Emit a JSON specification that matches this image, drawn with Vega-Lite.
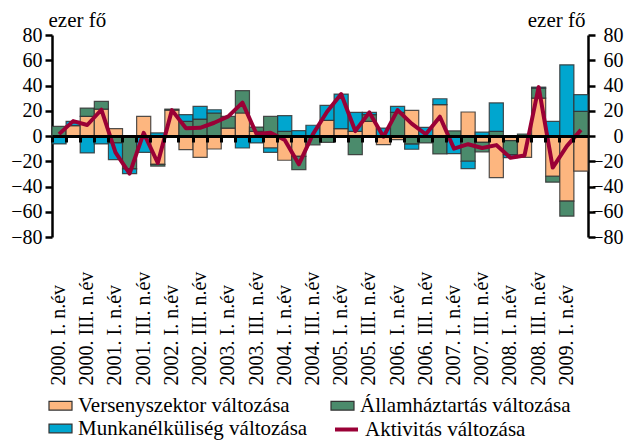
{
  "$schema": "https://vega.github.io/schema/vega-lite/v6.json",
  "width": 536,
  "height": 202,
  "autosize": {"type": "none"},
  "padding": {"left": 52, "top": 35, "right": 43, "bottom": 204},
  "background": "white",
  "config": {"font": "Liberation Serif", "view": {"stroke": null}, "axis": {"grid": false}},
  "datasets": {
    "bars": [
      {"q": "2000. I. n.év", "s": "Államháztartás változása", "v": 7.6},
      {"q": "2000. I. n.év", "s": "Munkanélküliség változása", "v": -6.3},
      {"q": "2000. II. n.év", "s": "Versenyszektor változása", "v": 8.2},
      {"q": "2000. II. n.év", "s": "Munkanélküliség változása", "v": 3.4},
      {"q": "2000. III. n.év", "s": "Versenyszektor változása", "v": 15.5},
      {"q": "2000. III. n.év", "s": "Államháztartás változása", "v": 6.6},
      {"q": "2000. III. n.év", "s": "Munkanélküliség változása", "v": -13.4},
      {"q": "2000. IV. n.év", "s": "Versenyszektor változása", "v": 21.3},
      {"q": "2000. IV. n.év", "s": "Államháztartás változása", "v": 6.1},
      {"q": "2000. IV. n.év", "s": "Munkanélküliség változása", "v": -6.3},
      {"q": "2001. I. n.év", "s": "Versenyszektor változása", "v": 5.8},
      {"q": "2001. I. n.év", "s": "Államháztartás változása", "v": -5.5},
      {"q": "2001. I. n.év", "s": "Munkanélküliség változása", "v": -13.2},
      {"q": "2001. II. n.év", "s": "Államháztartás változása", "v": -26.1},
      {"q": "2001. II. n.év", "s": "Munkanélküliség változása", "v": -3.7},
      {"q": "2001. III. n.év", "s": "Versenyszektor változása", "v": 15.5},
      {"q": "2001. III. n.év", "s": "Munkanélküliség változása", "v": -13},
      {"q": "2001. IV. n.év", "s": "Versenyszektor változása", "v": -22.5},
      {"q": "2001. IV. n.év", "s": "Államháztartás változása", "v": -1.3},
      {"q": "2001. IV. n.év", "s": "Munkanélküliség változása", "v": 2.4},
      {"q": "2002. I. n.év", "s": "Versenyszektor változása", "v": 20.5},
      {"q": "2002. I. n.év", "s": "Államháztartás változása", "v": 0.8},
      {"q": "2002. II. n.év", "s": "Versenyszektor változása", "v": -10.8},
      {"q": "2002. II. n.év", "s": "Államháztartás változása", "v": 11.6},
      {"q": "2002. II. n.év", "s": "Munkanélküliség változása", "v": 5.3},
      {"q": "2002. III. n.év", "s": "Versenyszektor változása", "v": -16.9},
      {"q": "2002. III. n.év", "s": "Államháztartás változása", "v": 13.4},
      {"q": "2002. III. n.év", "s": "Munkanélküliség változása", "v": 10},
      {"q": "2002. IV. n.év", "s": "Versenyszektor változása", "v": -10.3},
      {"q": "2002. IV. n.év", "s": "Államháztartás változása", "v": 18.2},
      {"q": "2002. IV. n.év", "s": "Munkanélküliség változása", "v": 2.6},
      {"q": "2003. I. n.év", "s": "Versenyszektor változása", "v": 6.3},
      {"q": "2003. I. n.év", "s": "Államháztartás változása", "v": 9.2},
      {"q": "2003. II. n.év", "s": "Versenyszektor változása", "v": 18.2},
      {"q": "2003. II. n.év", "s": "Államháztartás változása", "v": 17.7},
      {"q": "2003. II. n.év", "s": "Munkanélküliség változása", "v": -9.5},
      {"q": "2003. III. n.év", "s": "Versenyszektor változása", "v": 3.7},
      {"q": "2003. III. n.év", "s": "Államháztartás változása", "v": 3.4},
      {"q": "2003. III. n.év", "s": "Munkanélküliség változása", "v": -5.5},
      {"q": "2003. IV. n.év", "s": "Versenyszektor változása", "v": -9.5},
      {"q": "2003. IV. n.év", "s": "Államháztartás változása", "v": 15.5},
      {"q": "2003. IV. n.év", "s": "Munkanélküliség változása", "v": -3.4},
      {"q": "2004. I. n.év", "s": "Versenyszektor változása", "v": -19.2},
      {"q": "2004. I. n.év", "s": "Államháztartás változása", "v": 3.7},
      {"q": "2004. I. n.év", "s": "Munkanélküliség változása", "v": 12.4},
      {"q": "2004. II. n.év", "s": "Versenyszektor változása", "v": -16.1},
      {"q": "2004. II. n.év", "s": "Államháztartás változása", "v": -10.5},
      {"q": "2004. II. n.év", "s": "Munkanélküliség változása", "v": 4.2},
      {"q": "2004. III. n.év", "s": "Államháztartás változása", "v": -7},
      {"q": "2004. III. n.év", "s": "Munkanélküliség változása", "v": 8.5},
      {"q": "2004. IV. n.év", "s": "Versenyszektor változása", "v": 12.4},
      {"q": "2004. IV. n.év", "s": "Államháztartás változása", "v": -5},
      {"q": "2004. IV. n.év", "s": "Munkanélküliség változása", "v": 11.8},
      {"q": "2005. I. n.év", "s": "Versenyszektor változása", "v": 5.8},
      {"q": "2005. I. n.év", "s": "Munkanélküliség változása", "v": 27.4},
      {"q": "2005. II. n.év", "s": "Versenyszektor változása", "v": 3.7},
      {"q": "2005. II. n.év", "s": "Államháztartás változása", "v": -14.8},
      {"q": "2005. II. n.év", "s": "Munkanélküliség változása", "v": 15},
      {"q": "2005. III. n.év", "s": "Versenyszektor változása", "v": 11.6},
      {"q": "2005. III. n.év", "s": "Államháztartás változása", "v": 5.3},
      {"q": "2005. III. n.év", "s": "Munkanélküliség változása", "v": 1.8},
      {"q": "2005. IV. n.év", "s": "Versenyszektor változása", "v": -6.9},
      {"q": "2005. IV. n.év", "s": "Munkanélküliség változása", "v": 6.3},
      {"q": "2006. I. n.év", "s": "Versenyszektor változása", "v": -2.9},
      {"q": "2006. I. n.év", "s": "Államháztartás változása", "v": 18.7},
      {"q": "2006. I. n.év", "s": "Munkanélküliség változása", "v": 4.7},
      {"q": "2006. II. n.év", "s": "Versenyszektor változása", "v": 20.3},
      {"q": "2006. II. n.év", "s": "Államháztartás változása", "v": -6.5},
      {"q": "2006. II. n.év", "s": "Munkanélküliség változása", "v": -4},
      {"q": "2006. III. n.év", "s": "Államháztartás változása", "v": -5.5},
      {"q": "2006. III. n.év", "s": "Munkanélküliség változása", "v": 6.9},
      {"q": "2006. IV. n.év", "s": "Versenyszektor változása", "v": 24.8},
      {"q": "2006. IV. n.év", "s": "Államháztartás változása", "v": -14.2},
      {"q": "2006. IV. n.év", "s": "Munkanélküliség változása", "v": 4.7},
      {"q": "2007. I. n.év", "s": "Államháztartás változása", "v": 4},
      {"q": "2007. I. n.év", "s": "Munkanélküliség változása", "v": -14},
      {"q": "2007. II. n.év", "s": "Versenyszektor változása", "v": 19},
      {"q": "2007. II. n.év", "s": "Államháztartás változása", "v": -20},
      {"q": "2007. II. n.év", "s": "Munkanélküliség változása", "v": -5.8},
      {"q": "2007. III. n.év", "s": "Versenyszektor változása", "v": -5},
      {"q": "2007. III. n.év", "s": "Államháztartás változása", "v": -7.5},
      {"q": "2007. III. n.év", "s": "Munkanélküliség változása", "v": 3},
      {"q": "2007. IV. n.év", "s": "Versenyszektor változása", "v": -33},
      {"q": "2007. IV. n.év", "s": "Államháztartás változása", "v": 3.7},
      {"q": "2007. IV. n.év", "s": "Munkanélküliség változása", "v": 22.5},
      {"q": "2008. I. n.év", "s": "Versenyszektor változása", "v": -3.7},
      {"q": "2008. I. n.év", "s": "Államháztartás változása", "v": -11},
      {"q": "2008. I. n.év", "s": "Munkanélküliség változása", "v": -2.5},
      {"q": "2008. II. n.év", "s": "Versenyszektor változása", "v": -17},
      {"q": "2008. II. n.év", "s": "Államháztartás változása", "v": 1.6},
      {"q": "2008. III. n.év", "s": "Versenyszektor változása", "v": 30},
      {"q": "2008. III. n.év", "s": "Államháztartás változása", "v": 7.9},
      {"q": "2008. III. n.év", "s": "Munkanélküliség változása", "v": 0.8},
      {"q": "2008. IV. n.év", "s": "Versenyszektor változása", "v": -31.9},
      {"q": "2008. IV. n.év", "s": "Államháztartás változása", "v": -4.7},
      {"q": "2008. IV. n.év", "s": "Munkanélküliség változása", "v": 11.6},
      {"q": "2009. I. n.év", "s": "Versenyszektor változása", "v": -51.6},
      {"q": "2009. I. n.év", "s": "Államháztartás változása", "v": -11.9},
      {"q": "2009. I. n.év", "s": "Munkanélküliség változása", "v": 56.4},
      {"q": "2009. II. n.év", "s": "Versenyszektor változása", "v": -27.9},
      {"q": "2009. II. n.év", "s": "Államháztartás változása", "v": 19.5},
      {"q": "2009. II. n.év", "s": "Munkanélküliség változása", "v": 13.2}
    ],
    "line": [
      {"q": "2000. I. n.év", "v": 1.5},
      {"q": "2000. II. n.év", "v": 11.8},
      {"q": "2000. III. n.év", "v": 8.7},
      {"q": "2000. IV. n.év", "v": 20.8},
      {"q": "2001. I. n.év", "v": -13},
      {"q": "2001. II. n.év", "v": -29.8},
      {"q": "2001. III. n.év", "v": 2.5},
      {"q": "2001. IV. n.év", "v": -21.4},
      {"q": "2002. I. n.év", "v": 20.5},
      {"q": "2002. II. n.év", "v": 6.1},
      {"q": "2002. III. n.év", "v": 6.5},
      {"q": "2002. IV. n.év", "v": 10.5},
      {"q": "2003. I. n.év", "v": 15.5},
      {"q": "2003. II. n.év", "v": 26.4},
      {"q": "2003. III. n.év", "v": 1.6},
      {"q": "2003. IV. n.év", "v": 2.6},
      {"q": "2004. I. n.év", "v": -3.1},
      {"q": "2004. II. n.év", "v": -22.4},
      {"q": "2004. III. n.év", "v": 1.5},
      {"q": "2004. IV. n.év", "v": 19.2},
      {"q": "2005. I. n.év", "v": 33.2},
      {"q": "2005. II. n.év", "v": 3.9},
      {"q": "2005. III. n.év", "v": 18.7},
      {"q": "2005. IV. n.év", "v": -0.6},
      {"q": "2006. I. n.év", "v": 20.5},
      {"q": "2006. II. n.év", "v": 9.8},
      {"q": "2006. III. n.év", "v": 1.4},
      {"q": "2006. IV. n.év", "v": 15.3},
      {"q": "2007. I. n.év", "v": -10},
      {"q": "2007. II. n.év", "v": -6.5},
      {"q": "2007. III. n.év", "v": -9.5},
      {"q": "2007. IV. n.év", "v": -7.2},
      {"q": "2008. I. n.év", "v": -17.2},
      {"q": "2008. II. n.év", "v": -15.4},
      {"q": "2008. III. n.év", "v": 38.7},
      {"q": "2008. IV. n.év", "v": -25},
      {"q": "2009. I. n.év", "v": -8},
      {"q": "2009. II. n.év", "v": 4.8}
    ]
  },
  "layer": [
    {
      "data": {"name": "bars"},
      "transform": [
        {"calculate": "indexof(['Versenyszektor változása','Államháztartás változása','Munkanélküliség változása'], datum.s)", "as": "rend"}
      ],
      "mark": {"type": "bar", "stroke": "#333333", "strokeWidth": 1.2, "strokeOpacity": 0.85},
      "encoding": {
        "x": {
          "field": "q", "type": "nominal", "sort": "ascending",
          "scale": {"paddingInner": 0, "paddingOuter": 0},
          "axis": {
            "orient": "bottom",
            "values": ["2000. I. n.év","2000. III. n.év","2001. I. n.év","2001. III. n.év","2002. I. n.év","2002. III. n.év","2003. I. n.év","2003. III. n.év","2004. I. n.év","2004. III. n.év","2005. I. n.év","2005. III. n.év","2006. I. n.év","2006. III. n.év","2007. I. n.év","2007. III. n.év","2008. I. n.év","2008. III. n.év","2009. I. n.év"],
            "labelAngle": -90, "labelAlign": "left", "labelBaseline": "middle",
            "labelPadding": 148, "ticks": false, "tickSize": 0, "domain": false, "title": null,
            "labelFontSize": 20, "labelColor": "black", "labelFont": "Liberation Serif", "labelOverlap": false
          }
        },
        "y": {
          "field": "v", "type": "quantitative", "stack": "zero",
          "scale": {"domain": [-80, 80], "nice": false},
          "axis": {
            "orient": "left", "values": [-80, -60, -40, -20, 0, 20, 40, 60, 80],
            "tickSize": 7, "tickWidth": 2.5, "tickColor": "black",
            "domainWidth": 2.5, "domainColor": "black",
            "labelFontSize": 20, "labelPadding": 3, "labelColor": "black", "labelFont": "Liberation Serif",
            "title": "ezer fő", "titleAngle": 0, "titleAlign": "left", "titleBaseline": "alphabetic",
            "titleX": -4, "titleY": -9, "titleFontSize": 21, "titleFontWeight": "normal", "titleColor": "black", "titleFont": "Liberation Serif"
          }
        },
        "fill": {
          "field": "s", "type": "nominal",
          "scale": {
            "domain": ["Versenyszektor változása", "Államháztartás változása", "Munkanélküliség változása"],
            "range": ["#FDB67F", "#4B8B6C", "#00A6CF"]
          },
          "legend": {
            "orient": "none", "legendX": -4, "legendY": 358,
            "direction": "horizontal", "columns": 2, "title": null,
            "labelFont": "Liberation Serif", "labelFontSize": 21, "labelColor": "black",
            "symbolType": "M-1,-0.38H1V0.38H-1Z", "symbolSize": 529,
            "symbolStrokeColor": "#333333", "symbolStrokeWidth": 1.2, "symbolOpacity": 1,
            "labelOffset": 5, "columnPadding": 20, "rowPadding": 0, "padding": 0, "labelLimit": 400
          }
        },
        "order": {"field": "rend", "type": "quantitative"}
      }
    },
    {
      "data": {"name": "line"},
      "mark": {"type": "line", "strokeWidth": 4, "strokeJoin": "round"},
      "encoding": {
        "x": {
          "field": "q", "type": "nominal", "sort": "ascending",
          "axis": {
            "orient": "bottom", "offset": -101, "labels": false, "ticks": true, "bandPosition": 0,
            "tickSize": 6, "tickWidth": 3, "tickColor": "black",
            "domain": true, "domainWidth": 3, "domainColor": "black", "title": null, "zindex": 1
          }
        },
        "y": {
          "field": "v", "type": "quantitative",
          "axis": {
            "orient": "right", "values": [-80, -60, -40, -20, 0, 20, 40, 60, 80],
            "tickSize": 7, "tickWidth": 2.5, "tickColor": "black",
            "domainWidth": 2.5, "domainColor": "black",
            "labelFontSize": 20, "labelPadding": 28, "labelAlign": "right", "labelColor": "black", "labelFont": "Liberation Serif",
            "title": "ezer fő", "titleAngle": 0, "titleAlign": "right", "titleBaseline": "alphabetic",
            "titleX": -3, "titleY": -9, "titleFontSize": 21, "titleFontWeight": "normal", "titleColor": "black", "titleFont": "Liberation Serif"
          }
        },
        "stroke": {
          "datum": "Aktivitás változása", "type": "nominal",
          "scale": {"range": ["#9A0036"]},
          "legend": {
            "orient": "none", "legendX": 281, "legendY": 381, "title": null,
            "labelFont": "Liberation Serif", "labelFontSize": 21, "labelColor": "black",
            "symbolType": "stroke", "symbolSize": 529, "symbolStrokeWidth": 4, "symbolOpacity": 1,
            "labelOffset": 5, "padding": 0, "labelLimit": 400
          }
        }
      }
    }
  ],
  "resolve": {"axis": {"x": "independent", "y": "independent"}}
}
